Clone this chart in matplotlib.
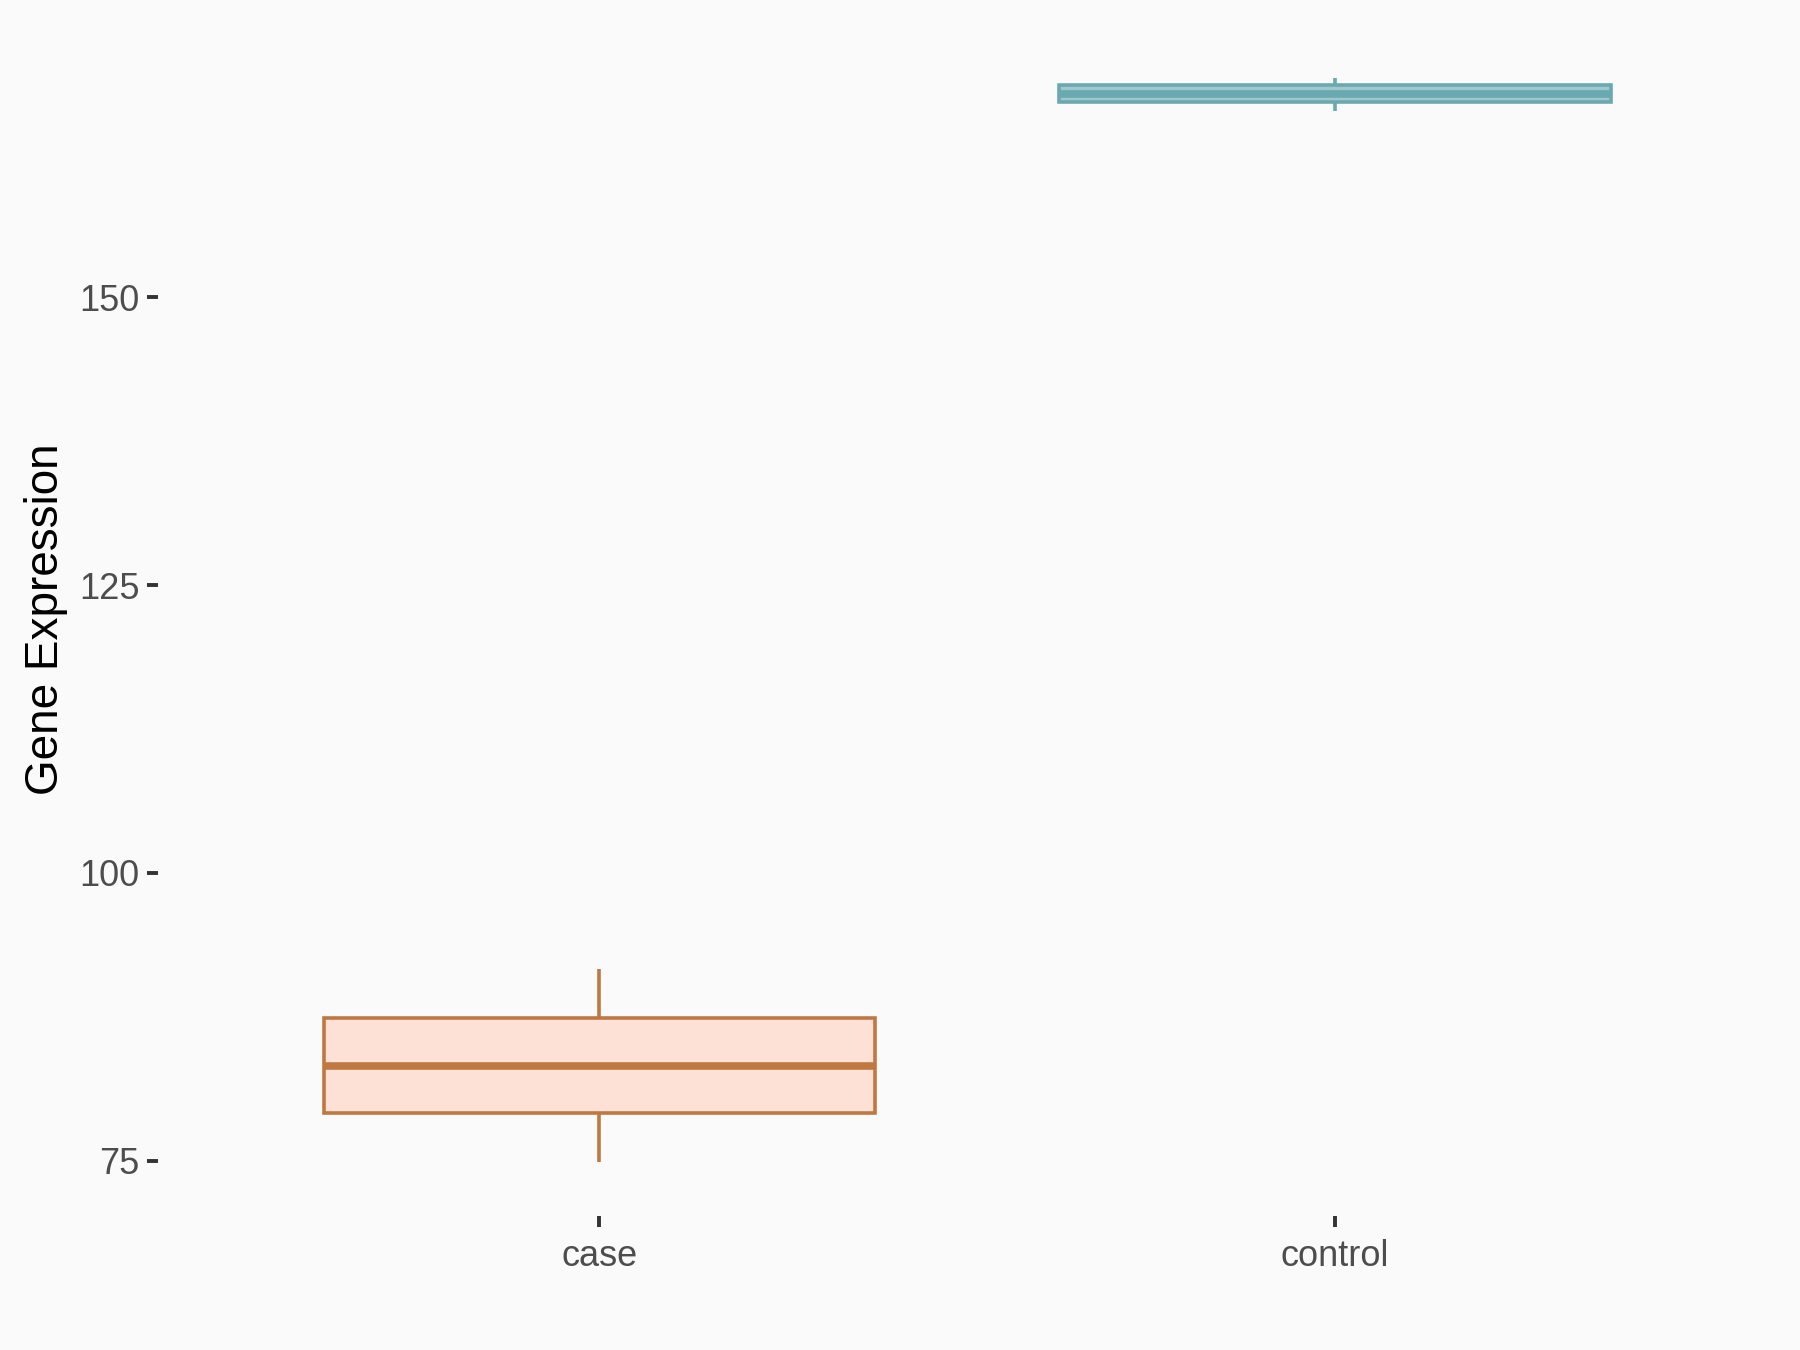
import matplotlib
matplotlib.use("Agg")
import matplotlib.pyplot as plt

# ---- data ----
groups = ["case", "control"]
whisker_low = [74.9, 166.2]
q1 = [79.1, 167.0]
median = [83.25, 167.7]
q3 = [87.4, 168.45]
whisker_high = [91.65, 169.1]
y_ticks = [75, 100, 125, 150]

edge_colors = ["#C07843", "#6AA9B0"]
fill_colors = ["#FDE0D6", "#9FC8CD"]

plt.rcParams["font.family"] = ["Liberation Sans", "DejaVu Sans"]

DPI = 100
fig = plt.figure(figsize=(18, 13.5), dpi=DPI, facecolor="#FAFAFA")
ax = fig.add_axes([0.0878, 0.0993, 0.9867 - 0.0878, 0.9827 - 0.0993])
ax.set_facecolor("#FAFAFA")

stats = []
for i, g in enumerate(groups):
    stats.append(dict(label=g, whislo=whisker_low[i], q1=q1[i], med=median[i],
                      q3=q3[i], whishi=whisker_high[i], fliers=[]))

lw = 2.6
bp = ax.bxp(stats, positions=[1, 2], widths=0.75, patch_artist=True,
            showcaps=False, showfliers=False)
for i in range(len(groups)):
    box = bp["boxes"][i]
    box.set_facecolor(fill_colors[i])
    box.set_edgecolor(edge_colors[i])
    box.set_linewidth(lw)
    for w in bp["whiskers"][2 * i:2 * i + 2]:
        w.set_color(edge_colors[i])
        w.set_linewidth(lw)
        w.set_solid_capstyle("butt")
    m = bp["medians"][i]
    m.set_color(edge_colors[i])
    m.set_linewidth(lw * 2.1)
    m.set_solid_capstyle("butt")

lo = min(whisker_low)
hi = max(whisker_high)
pad = (hi - lo) * 0.05
ax.set_ylim(lo - pad, hi + pad)
ax.set_xlim(0.4, 2.6)

ax.set_xticks([1, 2])
ax.set_xticklabels(groups)
ax.set_yticks(y_ticks)
ax.set_yticklabels([str(t) for t in y_ticks])

for s in ax.spines.values():
    s.set_visible(False)

ax.tick_params(axis="both", which="major", length=8, width=2.8,
               color="#333333", labelcolor="#4D4D4D", labelsize=26)
ax.tick_params(axis="y", pad=5.5)
ax.tick_params(axis="x", pad=8.5)

ax.set_ylabel("Gene Expression", fontsize=33, color="black", labelpad=7.5)
ax.set_xlabel("")

fig.savefig("out.png", dpi=DPI, facecolor=fig.get_facecolor())
